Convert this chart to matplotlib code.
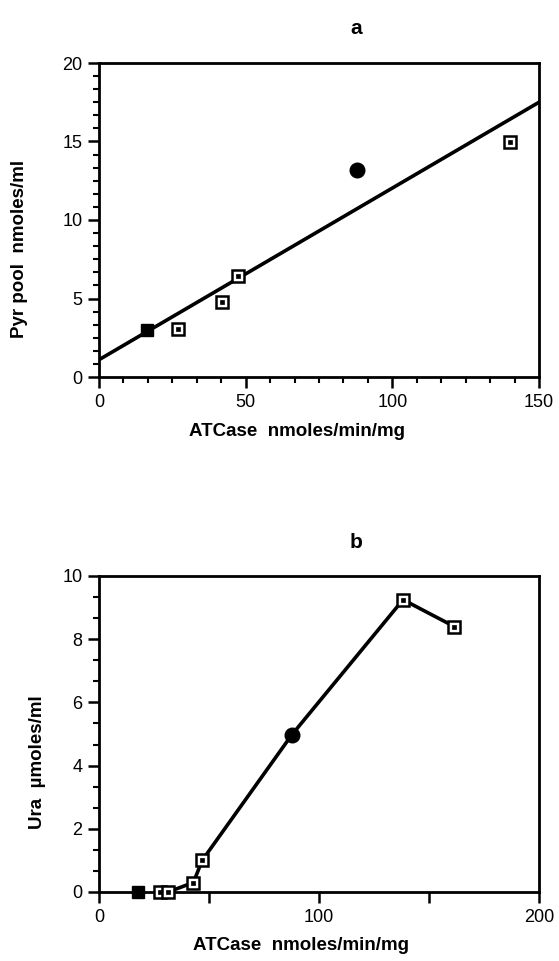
import numpy as np
import matplotlib.pyplot as plt
from matplotlib.ticker import MultipleLocator

plt.rcParams['font.family'] = ['Liberation Sans', 'DejaVu Sans']

# panel a: pyrimidine pool vs ATCase
a_open_x = [27, 42, 47.5, 140]
a_open_y = [3.05, 4.8, 6.45, 14.95]
a_fsq_x, a_fsq_y = [16.5], [3.0]
a_circ_x, a_circ_y = [87.8], [13.2]
a_fit_x = [0, 150]
a_fit_y = [1.1, 17.5]

# panel b: uracil vs ATCase
b_open_x = [27.8, 31.4, 42.9, 46.9, 138.2, 161.5]
b_open_y = [0, 0, 0.3, 1.0, 9.25, 8.4]
b_fsq_x, b_fsq_y = [17.5], [0]
b_circ_x, b_circ_y = [87.6], [4.97]
b_line_x = [27.8, 31.4, 42.9, 46.9, 87.6, 138.2, 161.5]
b_line_y = [0, 0, 0.3, 1.0, 4.97, 9.25, 8.4]

fig = plt.figure(figsize=(5.59, 9.61), dpi=100)
W, H = 559, 961

def box(l, t, r, b):
    return [l / W, 1 - b / H, (r - l) / W, (b - t) / H]

def open_sq(ax, x, y):
    ax.plot(x, y, ls='none', marker='s', ms=8.5, mfc='white', mec='black', mew=1.8,
            clip_on=False, zorder=5)
    ax.plot(x, y, ls='none', marker='s', ms=2.2, mfc='black', mec='black', mew=0.5,
            clip_on=False, zorder=6)

def style(ax):
    for s in ax.spines.values():
        s.set_linewidth(2)
    ax.tick_params(which='major', direction='out', length=8, width=1.8, labelsize=13, pad=4)
    ax.tick_params(which='minor', direction='out', length=4.5, width=1.5)

ax1 = fig.add_axes(box(99, 63, 539, 377))
ax1.plot(a_fit_x, a_fit_y, color='black', lw=2.6, zorder=3)
open_sq(ax1, a_open_x, a_open_y)
ax1.plot(a_fsq_x, a_fsq_y, ls='none', marker='s', ms=8, color='black', zorder=5)
ax1.plot(a_circ_x, a_circ_y, ls='none', marker='o', ms=10.5, color='black', zorder=5)
ax1.set_xlim(0, 150)
ax1.set_ylim(0, 20)
ax1.set_xticks([0, 50, 100, 150])
ax1.set_yticks([0, 5, 10, 15, 20])
ax1.xaxis.set_minor_locator(MultipleLocator(50 / 6))
ax1.yaxis.set_minor_locator(MultipleLocator(5 / 6))
style(ax1)

ax2 = fig.add_axes(box(99, 576, 539, 892))
ax2.plot(b_line_x, b_line_y, color='black', lw=2.6, zorder=3)
open_sq(ax2, b_open_x, b_open_y)
ax2.plot(b_fsq_x, b_fsq_y, ls='none', marker='s', ms=8, color='black', zorder=5,
         clip_on=False)
ax2.plot(b_circ_x, b_circ_y, ls='none', marker='o', ms=10.5, color='black', zorder=5)
ax2.set_xlim(0, 200)
ax2.set_ylim(0, 10)
ax2.set_xticks([0, 50, 100, 150, 200])
ax2.set_xticklabels(['0', '', '100', '', '200'])
ax2.set_yticks([0, 2, 4, 6, 8, 10])
ax2.yaxis.set_minor_locator(MultipleLocator(2 / 3))
style(ax2)

fig.text(356 / W, 1 - 28 / H, 'a', ha='center', va='center', fontsize=15, fontweight='bold')
fig.text(356 / W, 1 - 543 / H, 'b', ha='center', va='center', fontsize=15, fontweight='bold')
fig.text(297 / W, 1 - 431 / H, 'ATCase  nmoles/min/mg', ha='center', va='center',
         fontsize=13.5, fontweight='bold')
fig.text(301 / W, 1 - 945 / H, 'ATCase  nmoles/min/mg', ha='center', va='center',
         fontsize=13.5, fontweight='bold')
fig.text(20 / W, 1 - 249 / H, 'Pyr pool  nmoles/ml', ha='center', va='center',
         rotation=90, fontsize=13.5, fontweight='bold')
fig.text(38 / W, 1 - 762 / H, 'Ura  µmoles/ml', ha='center', va='center',
         rotation=90, fontsize=13.5, fontweight='bold')

fig.savefig('out.png', dpi=100)
